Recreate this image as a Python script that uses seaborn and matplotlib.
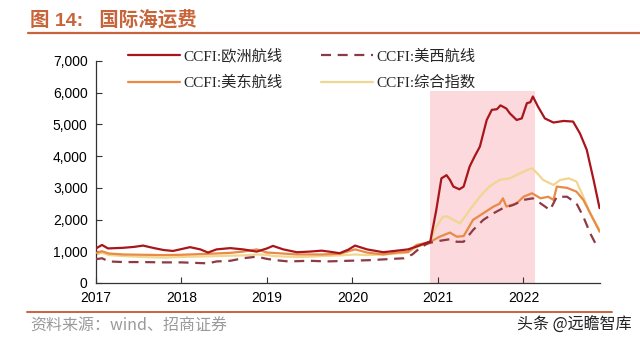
import matplotlib
matplotlib.use("Agg")
import matplotlib.pyplot as plt
import seaborn as sns
import pandas as pd
from matplotlib.lines import Line2D
from matplotlib.ticker import FuncFormatter

# ---- data (decimal years, index values) ----
eu_x = [2017.00, 2017.07, 2017.14, 2017.32, 2017.45, 2017.55, 2017.68, 2017.79, 2017.90, 2018.00,
        2018.10, 2018.22, 2018.31, 2018.41, 2018.57, 2018.72, 2018.88, 2019.00, 2019.07, 2019.19,
        2019.35, 2019.50, 2019.64, 2019.75, 2019.85, 2019.95, 2020.03, 2020.17, 2020.36, 2020.52,
        2020.65, 2020.75, 2020.87, 2020.91, 2020.98, 2021.04, 2021.10, 2021.14, 2021.18, 2021.25,
        2021.30, 2021.37, 2021.43, 2021.49, 2021.57, 2021.63, 2021.69, 2021.73, 2021.76, 2021.80,
        2021.84, 2021.92, 2021.98, 2022.04, 2022.08, 2022.11, 2022.17, 2022.25, 2022.35, 2022.47,
        2022.58, 2022.66, 2022.74, 2022.82, 2022.89]
eu_y = [1090, 1200, 1090, 1110, 1140, 1180, 1100, 1040, 1010, 1070,
        1130, 1060, 960, 1060, 1100, 1060, 990, 1090, 1170, 1060,
        970, 990, 1020, 980, 940, 1050, 1180, 1060, 970, 1020,
        1060, 1150, 1270, 1310, 2300, 3300, 3400, 3250, 3040, 2955,
        3040, 3670, 4000, 4300, 5140, 5460, 5480, 5600, 5560, 5500,
        5350, 5140, 5190, 5670, 5700, 5880, 5560, 5190, 5060, 5110,
        5090, 4720, 4200, 3250, 2360]

ue_x = [2017.00, 2017.07, 2017.15, 2017.32, 2017.55, 2017.79, 2018.00, 2018.10, 2018.31, 2018.57,
        2018.72, 2018.88, 2019.00, 2019.07, 2019.35, 2019.50, 2019.64, 2019.85, 2020.03, 2020.17,
        2020.36, 2020.52, 2020.65, 2020.75, 2020.87, 2020.91, 2021.02, 2021.14, 2021.22, 2021.30,
        2021.41, 2021.53, 2021.65, 2021.72, 2021.76, 2021.80, 2021.92, 2022.00, 2022.10, 2022.20,
        2022.29, 2022.35, 2022.39, 2022.51, 2022.62, 2022.70, 2022.78, 2022.89]
ue_y = [950, 1000, 930, 900, 890, 880, 890, 900, 920, 950,
        990, 1060, 960, 950, 900, 900, 900, 920, 1060, 960,
        900, 960, 980, 1200, 1270, 1300, 1460, 1590, 1460, 1480,
        1990, 2200, 2410, 2500, 2670, 2410, 2510, 2720, 2830, 2670,
        2720, 2620, 3040, 3000, 2880, 2620, 2200, 1620]

uw_x = [2017.00, 2017.07, 2017.15, 2017.32, 2017.55, 2017.79, 2018.00, 2018.20, 2018.31, 2018.41,
        2018.57, 2018.72, 2018.88, 2019.00, 2019.10, 2019.25, 2019.50, 2019.70, 2019.95, 2020.20,
        2020.40, 2020.60, 2020.70, 2020.80, 2020.87, 2020.91, 2021.02, 2021.14, 2021.22, 2021.30,
        2021.41, 2021.53, 2021.65, 2021.76, 2021.88, 2022.00, 2022.11, 2022.20, 2022.31, 2022.39,
        2022.51, 2022.62, 2022.70, 2022.78, 2022.86]
uw_y = [750, 780, 680, 660, 660, 650, 650, 630, 620, 680,
        700, 780, 830, 760, 720, 680, 700, 680, 700, 720,
        750, 780, 900, 1130, 1230, 1270, 1330, 1380, 1300, 1300,
        1670, 1990, 2200, 2360, 2460, 2620, 2670, 2510, 2300, 2720,
        2720, 2510, 2090, 1570, 1150]

ci_x = [2017.00, 2017.07, 2017.15, 2017.32, 2017.55, 2017.79, 2018.00, 2018.10, 2018.31, 2018.41,
        2018.57, 2018.72, 2018.88, 2019.00, 2019.07, 2019.35, 2019.50, 2019.64, 2019.85, 2020.03,
        2020.17, 2020.36, 2020.52, 2020.65, 2020.75, 2020.87, 2020.91, 2020.98, 2021.06, 2021.11,
        2021.18, 2021.26, 2021.37, 2021.49, 2021.60, 2021.72, 2021.84, 2021.96, 2022.04, 2022.10,
        2022.16, 2022.23, 2022.35, 2022.43, 2022.53, 2022.62, 2022.70, 2022.78, 2022.89]
ci_y = [900, 950, 880, 850, 820, 800, 820, 830, 840, 850,
        860, 870, 900, 890, 850, 820, 830, 850, 870, 900,
        880, 900, 930, 960, 1130, 1250, 1300, 1780, 2090, 2100,
        1990, 1880, 2300, 2720, 3040, 3250, 3300, 3460, 3560, 3620,
        3460, 3250, 3090, 3250, 3300, 3200, 2720, 2200, 1670]

labels = ["CCFI:欧洲航线", "CCFI:美东航线", "CCFI:美西航线", "CCFI:综合指数"]
year_ticks = [2017, 2018, 2019, 2020, 2021, 2022]
y_ticks = [0, 1000, 2000, 3000, 4000, 5000, 6000, 7000]
shade_start, shade_end = 2020.905, 2022.14

sns.set_theme(style="white")
plt.rcParams['font.family'] = ['Liberation Sans', 'Noto Sans CJK SC', 'DejaVu Sans']

fig = plt.figure(figsize=(6.4, 3.44), dpi=100)
ax = fig.add_axes([96/640, 1-283/344, (600-96)/640, (283-61)/344])

ax.axvspan(shade_start, shade_end, ymin=0, ymax=6050/7000, color='#FBD9DC', lw=0, zorder=0)

cols = {"eu": "#A8161C", "ue": "#E98A45", "uw": "#8E3A45", "ci": "#F0D690"}
sns.lineplot(x=ci_x, y=ci_y, ax=ax, color=cols["ci"], lw=1.6, label=labels[3], zorder=2)
sns.lineplot(x=ue_x, y=ue_y, ax=ax, color=cols["ue"], lw=1.6, label=labels[1], zorder=3)
sns.lineplot(x=uw_x, y=uw_y, ax=ax, color=cols["uw"], lw=1.6, label=labels[2], zorder=3,
             linestyle=(0, (4.5, 3)))
sns.lineplot(x=eu_x, y=eu_y, ax=ax, color=cols["eu"], lw=1.6, label=labels[0], zorder=4)

ax.set_xlim(2017, 2022.895)
ax.set_ylim(0, 7000)
ax.set_xticks(year_ticks)
ax.set_xticklabels([str(y) for y in year_ticks])
ax.set_yticks(y_ticks)
ax.yaxis.set_major_formatter(FuncFormatter(lambda v, p: f"{v:,.0f}"))
for s in ["top", "right"]:
    ax.spines[s].set_visible(False)
for s in ["left", "bottom"]:
    ax.spines[s].set_color("#333333")
    ax.spines[s].set_linewidth(0.9)
ax.tick_params(axis='both', direction='in', length=4, width=0.8, colors='#333333',
               labelsize=10, labelcolor='black', left=True, bottom=True)
ax.tick_params(axis='y', pad=6)
ax.tick_params(axis='x', pad=6)
ax.set_xlabel("")
ax.set_ylabel("")

h, l = ax.get_legend_handles_labels()
hd = dict(zip(l, h))
ax.legend([hd[t] for t in labels], labels, ncol=2, loc='upper left',
          bbox_to_anchor=(128/640, 1-49/344), bbox_transform=fig.transFigure,
          frameon=False, handlelength=3.4, handletextpad=0.25,
          columnspacing=2.5, labelspacing=0.78, borderpad=0, borderaxespad=0,
          prop={'family': ['Liberation Serif', 'Noto Sans CJK SC'], 'size': 11})

title_c = "#C8643A"
fig.text(30/640, 1-20/344, "图 14:   国际海运费", fontsize=14, fontweight='bold', color=title_c,
         va='center', ha='left', family=['Liberation Sans', 'Noto Sans CJK SC'])
fig.add_artist(Line2D([28/640, 1.0], [1-33/344, 1-33/344], color=title_c, lw=1.6))
fig.add_artist(Line2D([27/640, 612/640], [1-312/344, 1-312/344], color=title_c, lw=1.4))
fig.text(30/640, 1-326/344, "资料来源：wind、招商证券", fontsize=11.5, color='#9A9A9A',
         va='center', ha='left', family=['Noto Sans CJK SC'])
fig.text(632/640, 1-325/344, "头条 @远瞻智库", fontsize=11.5, color='#222222',
         va='center', ha='right', family=['Noto Sans CJK SC'])

fig.savefig("out.png", dpi=100)
